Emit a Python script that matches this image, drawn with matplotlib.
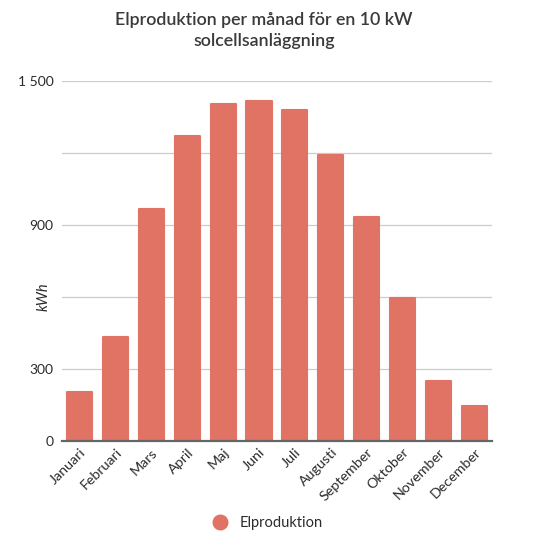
import matplotlib
matplotlib.use("Agg")
import matplotlib.pyplot as plt
from matplotlib.lines import Line2D

months = ["Januari", "Februari", "Mars", "April", "Maj", "Juni",
          "Juli", "Augusti", "September", "Oktober", "November", "December"]
kwh = [204, 431, 964, 1270, 1403, 1417, 1378, 1190, 933, 593, 247, 143]
yticks = [0, 300, 600, 900, 1200, 1500]
ytick_labels = ["0", "300", "", "900", "", "1 500"]

BAR = "#e07363"
TXT = "#2b2b2b"

plt.rcParams["font.family"] = ["Lato", "DejaVu Sans"]

fig = plt.figure(figsize=(5.5, 5.5), dpi=100)
ax = fig.add_axes([0.112, 0.199, 0.783, 0.654])

x = range(len(months))
ax.bar(x, kwh, width=0.70, color=BAR, edgecolor=BAR, linewidth=1.5,
       joinstyle="round", zorder=3)

ax.set_xlim(-0.5, len(months) - 0.5)
ax.set_ylim(0, 1500)
ax.set_yticks(yticks)
ax.set_yticklabels(ytick_labels, fontsize=10, color=TXT)
ax.set_xticks(list(x))
ax.set_xticklabels(months, rotation=45, ha="right", rotation_mode="anchor",
                   fontsize=10.3, color=TXT)
ax.tick_params(length=0, pad=6)
ax.tick_params(axis="x", pad=4)
ax.grid(axis="y", color="#cccccc", linewidth=0.9, zorder=0)
for s in ["top", "right", "left"]:
    ax.spines[s].set_visible(False)
ax.spines["bottom"].set_color("#666666")
ax.spines["bottom"].set_linewidth(1.6)
ax.spines["bottom"].set_zorder(4)

ax.set_ylabel("kWh", fontsize=10.5, style="italic", color=TXT)
ax.yaxis.set_label_coords(-0.025, 0.4)

fig.text(0.48, 0.945, "Elproduktion per månad för en 10 kW\nsolcellsanläggning",
         ha="center", va="center", fontsize=12.8, fontweight="semibold",
         color="#3a3a3a", linespacing=1.4)

handle = Line2D([], [], marker="o", linestyle="none", markersize=10.5,
                markerfacecolor=BAR, markeredgecolor=BAR)
fig.legend([handle], ["Elproduktion"], loc="center", bbox_to_anchor=(0.48, 0.049),
           frameon=False, fontsize=10.5, handletextpad=0.3, labelcolor=TXT)

fig.savefig("out.png", dpi=100)
